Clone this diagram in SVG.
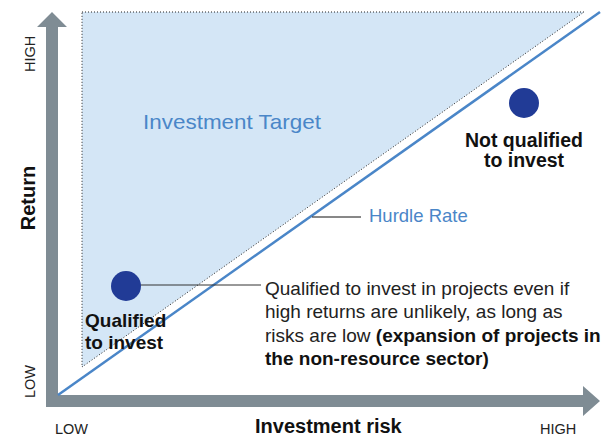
<svg xmlns="http://www.w3.org/2000/svg" width="614" height="436" viewBox="0 0 614 436">
<style>
text{font-family:"Liberation Sans",Arial,sans-serif}
.ax{fill:#7f8c94}
.lbl{font-size:14.5px;fill:#222}
.bold{font-weight:bold;fill:#111}
.blue{fill:#4a86c8}
.dot{fill:#213b96}
.ann{font-size:19px;fill:#222}
</style>
<rect width="614" height="436" fill="#fff"/>
<g id="target-region">
<polygon points="82,12 584,12 82,367" fill="#d4e6f6" stroke="#222" stroke-width="1" stroke-dasharray="1,2"/>
<text x="143" y="129" font-size="21" class="blue" textLength="178" lengthAdjust="spacingAndGlyphs">Investment Target</text>
</g>
<g id="axes">
<polygon class="ax" points="46,407 46,27 37,27 52,12 67,27 58,27 58,395 583,395 583,386 600,401 583,416 583,407"/>
<text class="lbl" transform="translate(35,72) rotate(-90)">HIGH</text>
<text class="lbl" transform="translate(35,398) rotate(-90)">LOW</text>
<text class="bold" font-size="20" text-anchor="middle" transform="translate(35,198) rotate(-90)">Return</text>
<text class="lbl" x="55" y="434">LOW</text>
<text class="lbl" x="540" y="434">HIGH</text>
<text class="bold" font-size="20" x="255" y="433">Investment risk</text>
</g>
<g id="connectors">
<line x1="58" y1="395" x2="600" y2="12" stroke="#4a86c8" stroke-width="2.5"/>
<line x1="312" y1="217" x2="361" y2="217" stroke="#111" stroke-width="1"/>
<line x1="140" y1="285" x2="261" y2="285" stroke="#333" stroke-width="1"/>
</g>
<g id="hurdle-rate">
<text x="369" y="222" font-size="18.5" class="blue">Hurdle Rate</text>
</g>
<g id="not-qualified">
<circle class="dot" cx="524" cy="103" r="15"/>
<text class="bold" font-size="19.5" text-anchor="middle"><tspan x="524" y="147">Not qualified</tspan><tspan x="524" y="167">to invest</tspan></text>
</g>
<g id="qualified">
<circle class="dot" cx="126" cy="286" r="15"/>
<text class="bold" font-size="19"><tspan x="85" y="327">Qualified</tspan><tspan x="85" y="349">to invest</tspan></text>
</g>
<g id="annotation">
<text class="ann"><tspan x="265" y="295">Qualified to invest in projects even if</tspan><tspan x="265" y="318">high returns are unlikely, as long as</tspan><tspan x="265" y="342">risks are low <tspan font-weight="bold" fill="#111">(expansion of projects in</tspan></tspan><tspan x="265" y="365" font-weight="bold" fill="#111">the non-resource sector)</tspan></text>
</g>
</svg>
